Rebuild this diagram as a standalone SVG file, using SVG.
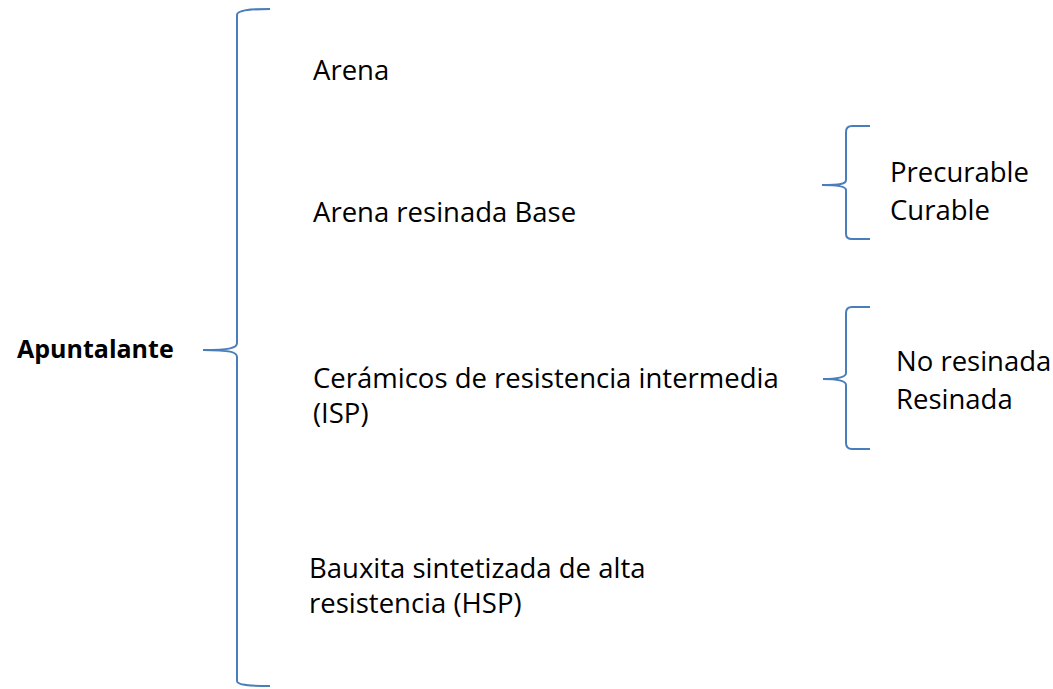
<svg xmlns="http://www.w3.org/2000/svg" width="1053" height="689" viewBox="0 0 1053 689">
<style>
.t{font-family:"Open Sans","Liberation Sans",sans-serif;font-size:27.5px;fill:#000}
.b{font-weight:bold;font-size:25px}
.br{fill:none;stroke:#4a7ebb;stroke-width:2}
</style>
<rect width="1053" height="689" fill="#fff"/>
<g id="connectors">
<path class="br" d="M270,9 C250,9 237,10 237,15 L237,343 C237,348 230,350 203,350 C230,350 237,352 237,357 L237,681 C237,685 250,686 270,686"/>
<path class="br" d="M870,126 L852,126 C848,126 846,128 846,132 L846,180 C846,184 840,185 822,185 C840,185 846,187 846,190 L846,234 C846,237 848,239 852,239 L870,239"/>
<path class="br" d="M870,307 L852,307 C848,307 846,309 846,313 L846,373 C846,377 840,379 823,379 C840,379 846,381 846,385 L846,443 C846,447 848,449 852,449 L870,449"/>
</g>
<g id="n-apuntalante"><text class="t b" x="17" y="358">Apuntalante</text></g>
<g id="n-arena"><text class="t" x="313" y="80">Arena</text></g>
<g id="n-arena-resinada"><text class="t" x="313" y="222">Arena resinada Base</text></g>
<g id="n-ceramicos"><text class="t" x="313" y="388">Cerámicos de resistencia intermedia</text><text class="t" x="313" y="423">(ISP)</text></g>
<g id="n-bauxita"><text class="t" x="309" y="578">Bauxita sintetizada de alta</text><text class="t" x="309" y="613">resistencia (HSP)</text></g>
<g id="n-curable"><text class="t" x="890" y="182">Precurable</text><text class="t" x="890" y="220">Curable</text></g>
<g id="n-resinada"><text class="t" x="896" y="371">No resinada</text><text class="t" x="896" y="409">Resinada</text></g>
</svg>
